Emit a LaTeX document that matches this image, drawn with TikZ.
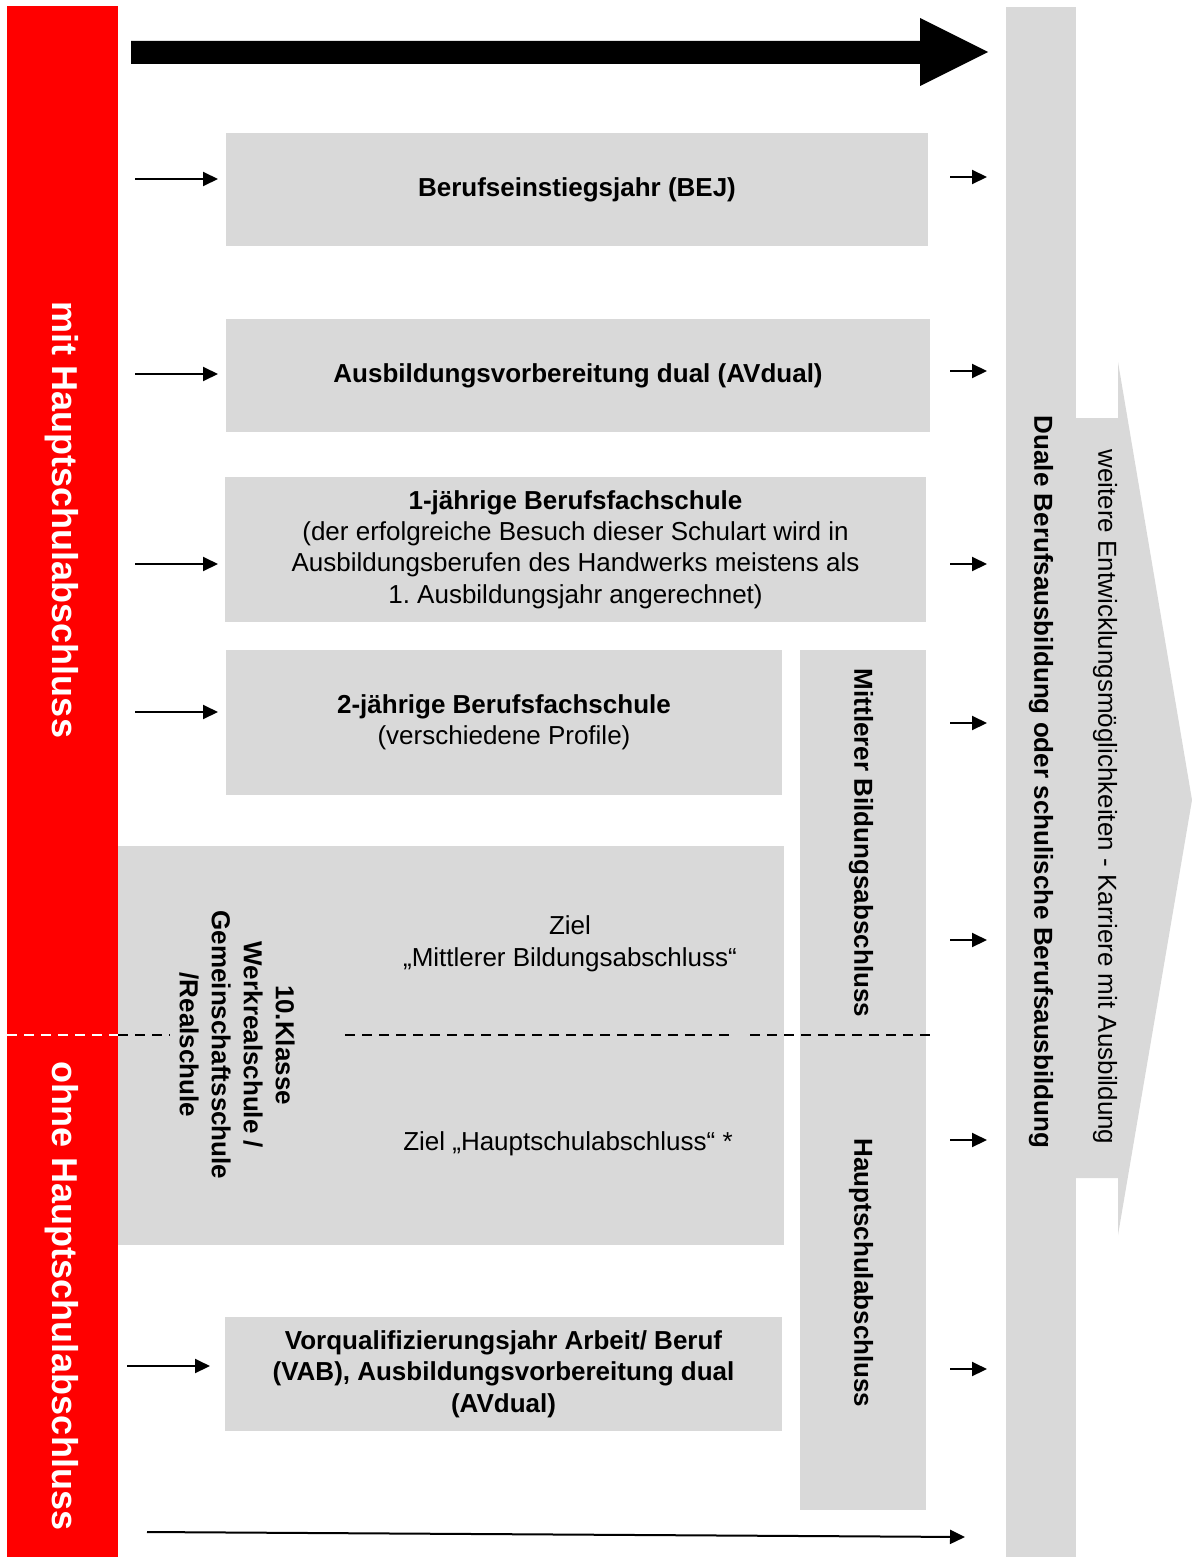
\documentclass[tikz,border=0pt]{standalone}
\usepackage{fontspec}
\setmainfont{Liberation Sans}
\frenchspacing
\usetikzlibrary{arrows.meta}
\definecolor{boxgray}{HTML}{D9D9D9}
\definecolor{barred}{HTML}{FF0000}
\tikzset{
  graybox/.style={fill=boxgray,inner sep=0pt,align=center,font=\fontsize{13pt}{15.7pt}\selectfont},
  plain/.style={inner sep=0pt,align=center,font=\fontsize{13pt}{15.7pt}\selectfont},
  redlabel/.style={inner sep=0pt,text=white,rotate=-90,font=\fontsize{18pt}{21pt}\selectfont\bfseries},
  shortarrow/.style={-{Triangle[length=7.5pt,width=7pt]},line width=1pt},
  cut/.style={dash pattern=on 5pt off 3.5pt,line width=0.75pt},
}

\begin{document}
\begin{tikzpicture}[line cap=butt,line join=miter,x=0.5pt,y=-0.5pt]
\useasboundingbox (0,0) rectangle (1192,1557);
% red bar on the left
\fill[barred] (7,6) rectangle (118,1557);
\node[redlabel] (mit) at (62,520) {mit Hauptschulabschluss};
\node[redlabel] (ohne) at (62,1296) {ohne Hauptschulabschluss};
% big arrow on top
\fill (131,41) -- (920,41) -- (920,18) -- (988,52) -- (920,86) -- (920,64) -- (131,64) -- cycle;
% column on the right and the arrow beside it
\node[graybox,rotate=-90,minimum width=775pt,minimum height=35pt] (duale) at (1041,782)
  {\bfseries Duale Berufsausbildung oder schulische Berufsausbildung};
\fill[boxgray] (1076,418) -- (1118,418) -- (1118,362) -- (1192,800) -- (1118,1235) -- (1118,1178) -- (1076,1178) -- cycle;
\node[plain,rotate=-90] (weiter) at (1105,797) {weitere Entwicklungsmöglichkeiten - Karriere mit Ausbildung};
% boxes
\node[graybox,minimum width=351pt,minimum height=56.5pt] (bej) at (577,189.5)
  {\bfseries Berufseinstiegsjahr (BEJ)};
\node[graybox,minimum width=352pt,minimum height=56.5pt] (avdual) at (578,375.5)
  {\bfseries Ausbildungsvorbereitung dual (AVdual)};
\node[graybox,minimum width=350.5pt,minimum height=72.5pt] (bfs1) at (575.5,549.5)
  {\textbf{1-jährige Berufsfachschule}\\(der erfolgreiche Besuch dieser Schulart wird in\\Ausbildungsberufen des Handwerks meistens als\\1. Ausbildungsjahr angerechnet)};
\node[graybox,minimum width=278pt,minimum height=72.5pt] (bfs2) at (504,722.5)
  {\textbf{2-jährige Berufsfachschule}\\(verschiedene Profile)};
\node[graybox,minimum width=333pt,minimum height=199.5pt] (klasse) at (451,1045.5) {};
\node[plain,rotate=-90,font=\fontsize{13pt}{16pt}\selectfont\bfseries] (klassetxt) at (237,1045)
  {10.Klasse\\Werkrealschule /\\Gemeinschaftsschule\\/Realschule};
\node[plain,font=\fontsize{13pt}{16pt}\selectfont] (zielmbs) at (570,944) {Ziel\\„Mittlerer Bildungsabschluss“};
\node[plain] (zielhs) at (568,1144) {Ziel „Hauptschulabschluss“ *};
\node[graybox,minimum width=278.5pt,minimum height=57pt] (vab) at (503.5,1374)
  {\bfseries Vorqualifizierungsjahr Arbeit/ Beruf\\\bfseries (VAB), Ausbildungsvorbereitung dual\\\bfseries (AVdual)};
\node[graybox,minimum width=63pt,minimum height=430pt] (abschluss) at (863,1080) {};
\node[plain,rotate=-90,font=\fontsize{13pt}{16pt}\selectfont\bfseries] (mbs) at (861,843) {Mittlerer Bildungsabschluss};
\node[plain,rotate=-90,font=\fontsize{13pt}{16pt}\selectfont\bfseries] (hsa) at (861,1273) {Hauptschulabschluss};
% dashed border between the two groups
\draw[cut,white] (7,1035) -- (118,1035);
\draw[cut] (118,1035) -- (170,1035);
\draw[cut] (345,1035) -- (733,1035);
\draw[cut] (750,1035) -- (930,1035);
% arrows in
\foreach \y in {179,374,564,712}
  \draw[shortarrow] (135,\y) -- (218,\y);
\draw[shortarrow] (127,1366) -- (210,1366);
% arrows out
\foreach \y in {177,371,564,723,940,1140,1369}
  \draw[shortarrow] (950,\y) -- (987,\y);
\draw[shortarrow] (147,1532) -- (965,1537);
\end{tikzpicture}
\end{document}
